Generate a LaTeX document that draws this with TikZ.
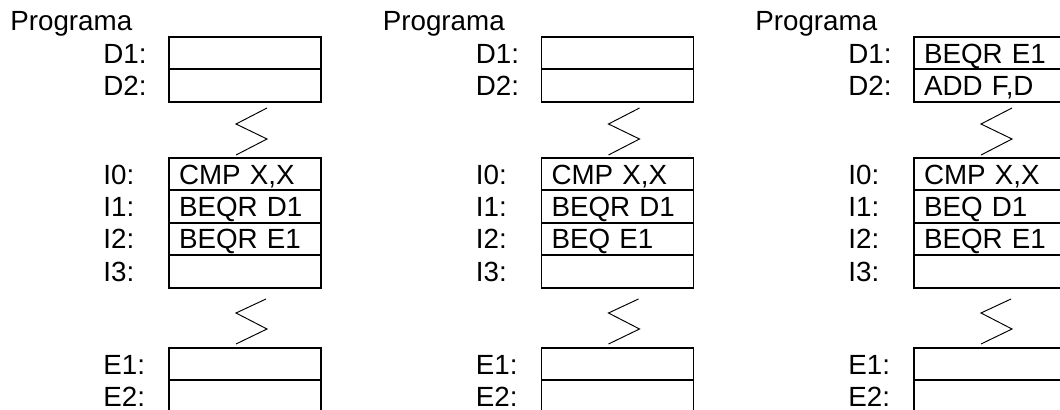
\documentclass[tikz,border=0pt]{standalone}
\usepackage{fontspec}
\setmainfont{Liberation Sans}
\usepackage{tikz}
\usetikzlibrary{positioning}

\begin{document}
\begin{tikzpicture}[
  x=0.02cm, y=-0.02cm,
  font=\fontsize{15.8}{19}\selectfont,
  cell/.style={draw,line width=1.1pt,outer sep=0pt,anchor=north west,inner xsep=0.2cm,inner ysep=0pt,
               text width=2.64cm,align=left,minimum height=0.648cm,
               text height=0.4cm,text depth=0pt},
  addr/.style={anchor=west,inner sep=0pt,text height=0.4cm,text depth=0pt},
  brk/.style={line width=0.55pt}
]
\clip (0,0) rectangle (1060,409);

\foreach \p/\sx/\da/\db/\ib/\ic in {a/0/{}/{}/{BEQR D1}/{BEQR E1},
                                    b/372.5/{}/{}/{BEQR D1}/{BEQ E1},
                                    c/745/{BEQR E1}/{ADD F,D}/{BEQ D1}/{BEQR E1}}
{
\begin{scope}[shift={(\sx,0)}]
  \node[addr] (\p-prog) at (10,20.5) {Programa};

  % memory cells
  \node[cell] (\p-d1) at (169,37) {\da};
  \node[cell] (\p-d2) at (\p-d1.south west) {\db};
  \node[cell] (\p-i0) at (169,158) {CMP X,X};
  \node[cell] (\p-i1) at (\p-i0.south west) {\ib};
  \node[cell] (\p-i2) at (\p-i1.south west) {\ic};
  \node[cell] (\p-i3) at (\p-i2.south west) {};
  \node[cell] (\p-e1) at (169,348) {};
  \node[cell] (\p-e2) at (\p-e1.south west) {};

  % addresses
  \node[addr] at (103,0 |- \p-d1.west) {D1:};
  \node[addr] at (103,0 |- \p-d2.west) {D2:};
  \node[addr] at (103,0 |- \p-i0.west) {I0:};
  \node[addr] at (103,0 |- \p-i1.west) {I1:};
  \node[addr] at (103,0 |- \p-i2.west) {I2:};
  \node[addr] at (103,0 |- \p-i3.west) {I3:};
  \node[addr] at (103,0 |- \p-e1.west) {E1:};
  \node[addr] at (103,0 |- \p-e2.west) {E2:};

  % breaks
  \draw[brk] (267,108) -- (236,124) -- (267,139) -- (236,155);
  \draw[brk] (266,299) -- (236,313) -- (267,329) -- (236,344);
\end{scope}
}
\end{tikzpicture}
\end{document}
